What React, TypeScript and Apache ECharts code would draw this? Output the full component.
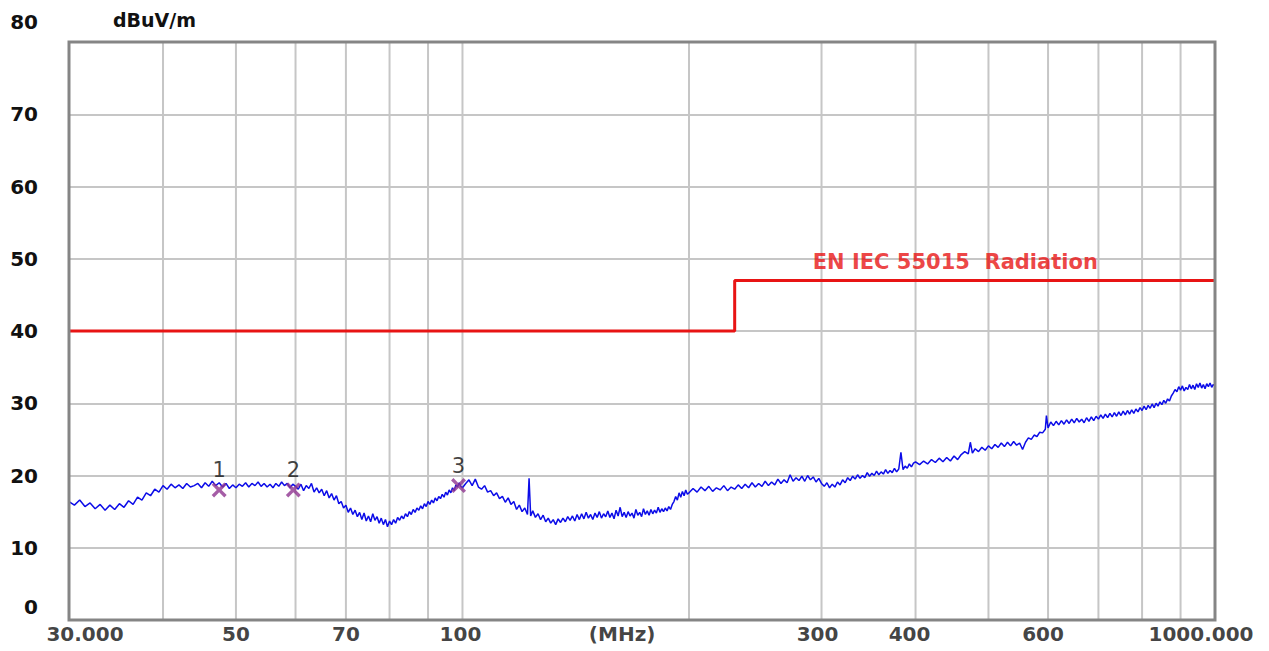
import { useEffect, useRef } from "react";
import * as echarts from "echarts";

// ---- data ----
const yUnit = "dBuV/m";
const gridFreqs = [40, 50, 60, 70, 80, 90, 100, 200, 300, 400, 500, 600, 700, 800, 900];
const xLabelFreqs = [30, 50, 70, 100, 163, 300, 400, 600, 1000];
const xLabelTexts = ["30.000", "50", "70", "100", "(MHz)", "300", "400", "600", "1000.000"];
const limitLine = [[30, 40], [230, 40], [230, 47], [1000, 47]];
const limitName = "EN IEC 55015  Radiation";
const limitLabelAt = [292, 47];
const markerFreqs = [47.5, 59.6, 98.8];
const markerLevels = [18.0, 18.0, 18.6];
const markerNames = ["1", "2", "3"];

const trace30to60 = [
  [30, 16.4], [30.5, 15.9], [31, 16.6], [31.5, 15.7], [32, 16.2], [32.5, 15.4], [33, 16.0], [33.5, 15.2], [34, 15.9], [34.5, 15.3],
  [35, 16.1], [35.5, 15.6], [36, 16.5], [36.5, 16.0], [37, 17.0], [37.5, 16.6], [38, 17.6], [38.5, 17.2], [39, 18.1], [39.5, 17.7],
  [40, 18.6], [40.5, 18.1], [41, 18.8], [41.5, 18.3], [42, 18.7], [42.5, 18.2], [43, 18.9], [43.5, 18.4], [44, 18.6], [44.5, 18.9],
  [45, 18.3], [45.5, 19.0], [46, 18.5], [46.5, 19.2], [47, 18.6], [47.5, 19.0], [48, 18.4], [48.5, 18.9], [49, 18.2], [49.5, 18.7],
  [50, 18.3], [50.5, 18.8], [51, 18.5], [51.5, 19.0], [52, 18.4], [52.5, 18.9], [53, 18.6], [53.5, 19.1], [54, 18.5], [54.5, 18.9],
  [55, 18.4], [55.5, 18.8], [56, 18.3], [56.5, 18.9], [57, 18.5], [57.5, 19.1], [58, 18.6], [58.5, 18.9], [59, 18.3], [59.5, 18.8],
];
const trace60to100 = [
  [60, 18.5], [60.5, 18.1], [61, 18.8], [61.5, 17.9], [62, 18.6], [62.5, 18.2], [63, 18.9], [63.5, 17.7], [64, 18.3], [64.5, 17.6],
  [65, 18.1], [65.5, 17.2], [66, 17.9], [66.5, 16.9], [67, 17.5], [67.5, 16.6], [68, 17.2], [68.5, 16.1], [69, 16.4], [69.5, 15.5],
  [70, 15.9], [70.5, 14.9], [71, 15.5], [71.5, 14.6], [72, 15.2], [72.5, 14.3], [73, 14.9], [73.5, 13.9], [74, 14.8], [74.5, 13.7],
  [75, 14.4], [75.5, 13.6], [76, 14.7], [76.5, 13.8], [77, 14.3], [77.5, 13.4], [78, 14.1], [78.5, 13.2], [79, 13.9], [79.5, 12.9],
  [80, 13.7], [80.5, 13.2], [81, 13.9], [81.5, 13.4], [82, 14.2], [82.5, 13.8], [83, 14.4], [83.5, 14.0], [84, 14.7], [84.5, 14.3],
  [85, 15.0], [85.5, 14.6], [86, 15.3], [86.5, 14.9], [87, 15.5], [87.5, 15.2], [88, 15.8], [88.5, 15.4], [89, 16.1], [89.5, 15.7],
  [90, 16.4], [90.5, 16.0], [91, 16.6], [91.5, 16.2], [92, 16.9], [92.5, 16.5], [93, 17.1], [93.5, 16.8], [94, 17.4], [94.5, 17.0],
  [95, 17.7], [95.5, 17.3], [96, 18.0], [96.5, 17.6], [97, 18.3], [97.5, 17.9], [98, 18.7], [98.5, 18.4], [99, 19.0], [99.5, 18.5],
];
const trace100to200 = [
  [100, 18.3], [101, 18.9], [102, 19.4], [103, 18.6], [104, 19.5], [105, 18.4], [106, 18.1], [107, 18.6], [108, 17.7], [109, 17.9],
  [110, 17.2], [111, 17.6], [112, 16.8], [113, 17.1], [114, 16.3], [115, 16.9], [116, 16.0], [117, 16.4], [118, 15.3], [119, 15.9],
  [120, 15.0], [121, 15.5], [122, 14.6], [122.6, 19.6], [123.2, 14.4], [124, 15.1], [125, 14.2], [126, 14.7], [127, 13.9], [128, 14.5],
  [129, 13.6], [130, 14.1], [131, 13.4], [132, 13.9], [133, 13.2], [134, 14.0], [135, 13.5], [136, 14.1], [137, 13.6], [138, 14.3],
  [139, 13.8], [140, 14.4], [141, 13.7], [142, 14.6], [143, 13.9], [144, 14.7], [145, 14.0], [146, 14.9], [147, 14.1], [148, 14.6],
  [149, 13.9], [150, 14.8], [151, 14.2], [152, 15.0], [153, 14.1], [154, 14.7], [155, 14.3], [156, 15.1], [157, 14.2], [158, 14.8],
  [159, 14.0], [160, 15.2], [161, 14.4], [162, 15.6], [163, 14.3], [164, 14.9], [165, 14.2], [166, 15.0], [167, 14.4], [168, 14.8],
  [169, 14.1], [170, 15.3], [171, 14.5], [172, 14.9], [173, 14.3], [174, 15.4], [175, 14.6], [176, 15.1], [177, 14.5], [178, 15.3],
  [179, 14.7], [180, 15.2], [181, 14.8], [182, 15.6], [183, 14.9], [184, 15.4], [185, 15.0], [186, 15.5], [187, 15.1], [188, 15.7],
  [189, 15.3], [190, 16.0], [191, 16.4], [192, 17.1], [193, 16.6], [194, 17.6], [195, 17.0], [196, 17.8], [197, 17.2], [198, 18.0],
  [199, 17.4],
];
const trace200to400 = [
  [200, 17.6], [202.5, 18.2], [205, 17.7], [207.5, 18.4], [210, 17.9], [212.5, 18.5], [215, 17.8], [217.5, 18.3], [220, 18.0], [222.5, 18.6],
  [225, 17.9], [227.5, 18.4], [230, 18.1], [232.5, 18.7], [235, 18.2], [237.5, 18.8], [240, 18.3], [242.5, 19.0], [245, 18.4], [247.5, 18.9],
  [250, 18.5], [252.5, 19.2], [255, 18.6], [257.5, 19.1], [260, 18.7], [262.5, 19.5], [265, 18.9], [267.5, 19.4], [270, 19.0], [272.5, 20.1],
  [275, 19.2], [277.5, 19.7], [280, 19.3], [282.5, 19.9], [285, 19.2], [287.5, 20.0], [290, 19.4], [292.5, 19.8], [295, 19.1], [297.5, 19.6],
  [300, 18.9], [302.5, 18.5], [305, 19.0], [307.5, 18.3], [310, 18.8], [312.5, 18.4], [315, 19.1], [317.5, 18.7], [320, 19.4], [322.5, 19.0],
  [325, 19.7], [327.5, 19.3], [330, 19.9], [332.5, 19.5], [335, 20.1], [337.5, 19.6], [340, 20.0], [342.5, 19.7], [345, 20.4], [347.5, 19.9],
  [350, 20.3], [352.5, 20.0], [355, 20.6], [357.5, 20.1], [360, 20.5], [362.5, 20.2], [365, 20.8], [367.5, 20.3], [370, 20.7], [372.5, 20.4],
  [375, 21.0], [377.5, 20.5], [380, 20.9], [382.5, 23.2], [385, 20.8], [387.5, 21.3], [390, 21.0], [392.5, 21.6], [395, 21.2], [397.5, 21.7],
];
const trace400to1000 = [
  [400, 21.9], [405, 21.5], [410, 22.0], [415, 21.6], [420, 22.2], [425, 21.8], [430, 22.4], [435, 21.9], [440, 22.5], [445, 22.0],
  [450, 22.7], [455, 22.2], [460, 22.9], [465, 23.3], [470, 23.0], [473, 24.6], [476, 23.1], [480, 23.7], [485, 23.3], [490, 23.9],
  [495, 23.5], [500, 24.1], [505, 23.7], [510, 24.3], [515, 23.9], [520, 24.5], [525, 24.0], [530, 24.6], [535, 24.1], [540, 24.7],
  [545, 24.2], [550, 24.5], [555, 23.6], [560, 24.6], [565, 25.2], [570, 25.0], [575, 25.6], [580, 25.4], [585, 26.0], [590, 25.9],
  [595, 26.4], [597, 28.3], [600, 26.6], [605, 27.4], [610, 26.9], [615, 27.5], [620, 27.0], [625, 27.6], [630, 27.1], [635, 27.7],
  [640, 27.2], [645, 27.8], [650, 27.3], [655, 27.9], [660, 27.4], [665, 27.8], [670, 27.3], [675, 28.0], [680, 27.5], [685, 28.1],
  [690, 27.6], [695, 28.2], [700, 27.8], [705, 28.4], [710, 27.9], [715, 28.5], [720, 28.0], [725, 28.6], [730, 28.1], [735, 28.7],
  [740, 28.2], [745, 28.8], [750, 28.3], [755, 28.9], [760, 28.4], [765, 29.0], [770, 28.5], [775, 29.1], [780, 28.6], [785, 29.2],
  [790, 28.8], [795, 29.4], [800, 29.0], [805, 29.6], [810, 29.1], [815, 29.7], [820, 29.3], [825, 29.9], [830, 29.4], [835, 30.0],
  [840, 29.6], [845, 30.2], [850, 29.8], [855, 30.4], [860, 30.0], [865, 30.6], [870, 30.3], [875, 31.0], [880, 31.4], [885, 31.9],
  [890, 31.6], [895, 32.3], [900, 31.8], [905, 32.4], [910, 31.7], [915, 32.2], [920, 31.9], [925, 32.6], [930, 32.0], [935, 32.5],
  [940, 31.9], [945, 32.7], [950, 32.2], [955, 32.8], [960, 32.1], [965, 32.6], [970, 32.0], [975, 32.7], [980, 32.3], [985, 32.8],
  [990, 32.2], [995, 32.6], [1000, 32.4],
];

// ---- styles ----
const FONT = "DejaVu Sans";
const xLabelShift = [16, 0, 0, -2, 0, -4, -6, -5, -14];
const X_MARK = "path://M0,1.6L1.6,0L5,3.4L8.4,0L10,1.6L6.6,5L10,8.4L8.4,10L5,6.6L1.6,10L0,8.4L3.4,5Z";

export default function App() {
  const ref = useRef<HTMLDivElement>(null);

  useEffect(() => {
    const chart = echarts.init(ref.current!, null, { renderer: "svg" });
    const trace = [...trace30to60, ...trace60to100, ...trace100to200, ...trace200to400, ...trace400to1000];
    const labelStyle = { fontFamily: FONT, fontWeight: "bold" as const, fontSize: 20, color: "#111" };

    const gridSeries = gridFreqs.map((f) => ({
      type: "line",
      data: [[f, 0], [f, 80]],
      showSymbol: false,
      silent: true,
      z: 1,
      lineStyle: { color: "#c6c6c6", width: 2 },
    }));

    const option = {
      animation: false,
      backgroundColor: "#ffffff",
      grid: {
        left: 69,
        right: 54,
        top: 42,
        bottom: 31,
        show: true,
        z: 10,
        backgroundColor: "transparent",
        borderColor: "#858585",
        borderWidth: 3,
      },
      xAxis: {
        type: "log",
        logBase: 10,
        min: 30,
        max: 1000,
        axisLine: { show: false },
        axisTick: { show: false },
        axisLabel: { show: false },
        splitLine: { show: false },
        minorSplitLine: { show: false },
      },
      yAxis: {
        type: "value",
        min: 0,
        max: 80,
        interval: 10,
        name: yUnit,
        nameLocation: "end",
        nameGap: 13,
        nameTextStyle: { ...labelStyle, fontSize: 19, align: "left", padding: [0, 0, 0, 44] },
        axisLine: { show: false },
        axisTick: { show: false },
        splitLine: { show: true, lineStyle: { color: "#c6c6c6", width: 2 } },
        axisLabel: {
          ...labelStyle,
          margin: 31,
          formatter: (v: number) => (v === 80 ? "{up|80}" : v === 0 ? "{low|0}" : String(v)),
          rich: {
            up: { ...labelStyle, padding: [0, 0, 40, 0] },
            low: { ...labelStyle, padding: [0, 0, 26, 0] },
          },
        },
      },
      series: [
        ...gridSeries,
        {
          type: "line",
          name: limitName,
          data: limitLine,
          showSymbol: false,
          silent: true,
          z: 3,
          lineStyle: { color: "#e81414", width: 3 },
        },
        {
          type: "line",
          name: "trace",
          data: trace,
          showSymbol: false,
          silent: true,
          z: 4,
          lineStyle: { color: "#0c0ce8", width: 1.5 },
        },
        {
          type: "scatter",
          name: "markers",
          data: markerFreqs.map((f, i) => [f, markerLevels[i]]),
          symbol: X_MARK,
          symbolSize: 15,
          z: 5,
          silent: true,
          itemStyle: { color: "#8e3590" },
          label: {
            show: true,
            position: "top",
            distance: 2,
            fontFamily: FONT,
            fontSize: 21,
            color: "#111",
            formatter: (p: any) => markerNames[p.dataIndex],
          },
        },
        {
          type: "scatter",
          name: "xlabels",
          clip: false,
          silent: true,
          symbolSize: 0,
          z: 6,
          data: xLabelFreqs.map((f, i) => ({
            value: [f, 0],
            label: { offset: [xLabelShift[i], 0] },
          })),
          label: {
            show: true,
            position: "bottom",
            distance: 4,
            ...labelStyle,
            formatter: (p: any) => xLabelTexts[p.dataIndex],
          },
        },
        {
          type: "scatter",
          name: "limitLabel",
          clip: false,
          silent: true,
          symbolSize: 0,
          z: 6,
          data: [limitLabelAt],
          label: {
            show: true,
            position: [0, -29],
            align: "left",
            verticalAlign: "top",
            fontFamily: FONT,
            fontWeight: "bold",
            fontSize: 21,
            color: "#e81414",
            formatter: () => limitName,
          },
        },
      ],
    };

    chart.setOption(option as any);
    return () => chart.dispose();
  }, []);

  return (
    <div
      ref={ref}
      style={{ position: "fixed", left: 0, top: 0, width: 1269, height: 651, background: "#fff" }}
    />
  );
}
